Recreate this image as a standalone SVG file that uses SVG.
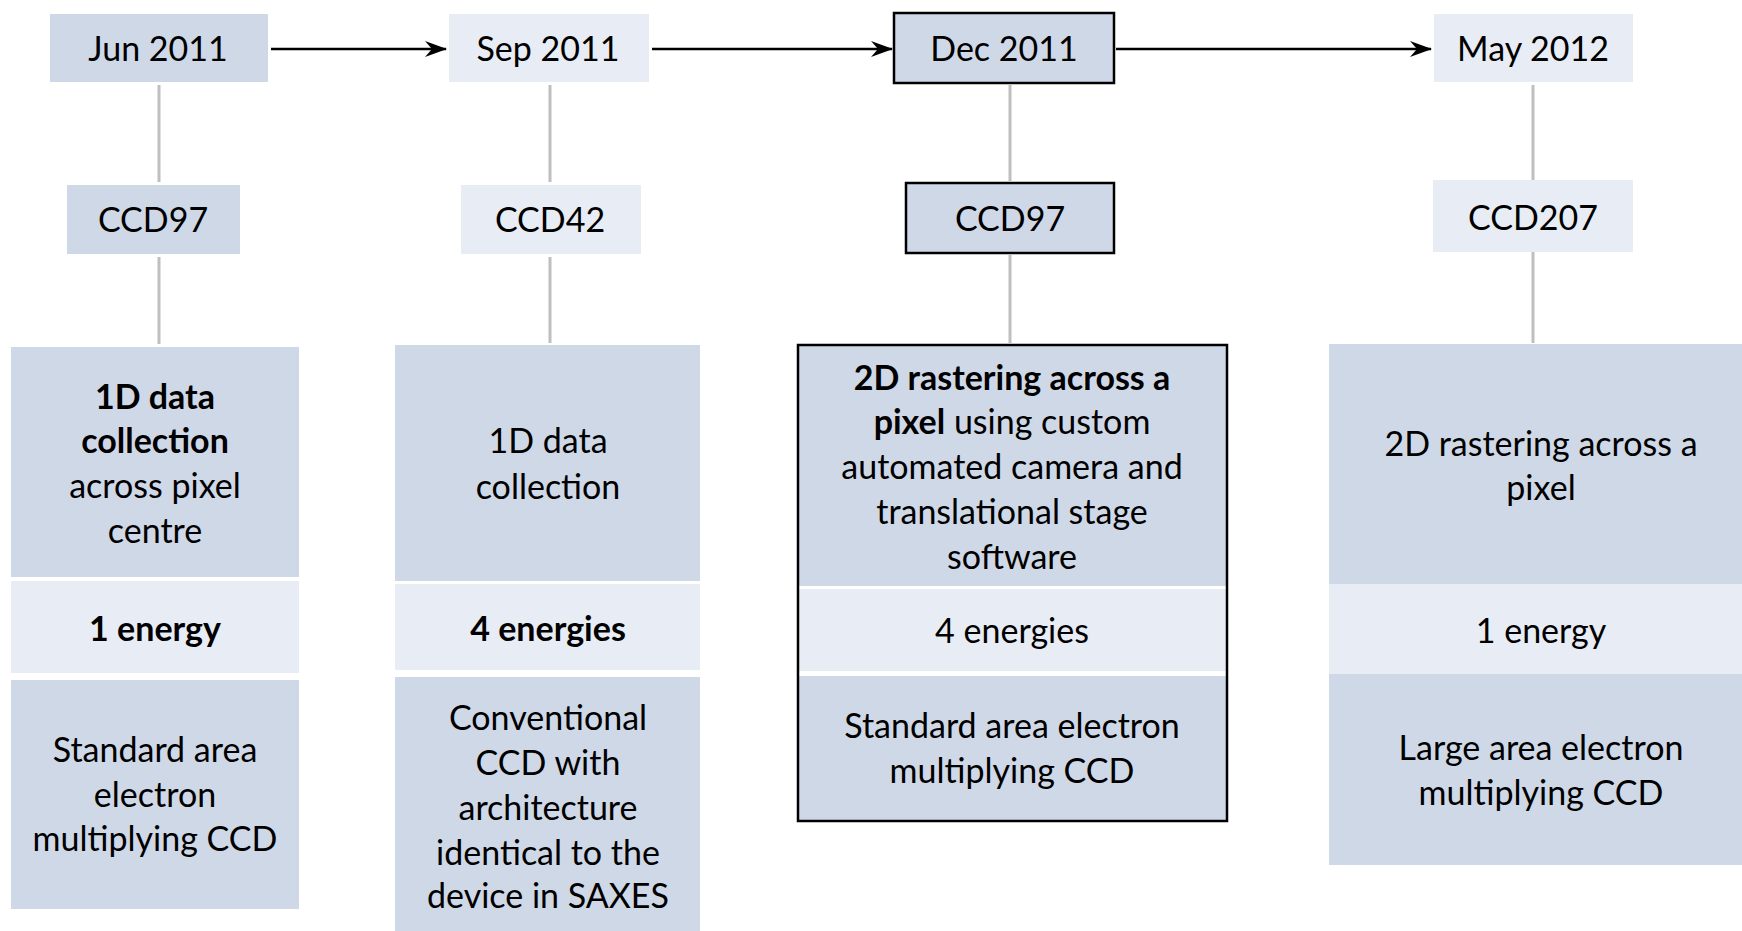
<svg xmlns="http://www.w3.org/2000/svg" width="1742" height="931" viewBox="0 0 1742 931">
<style>
text{font-family:Lato,"Open Sans","Liberation Sans",sans-serif;font-size:34px;fill:#000;text-anchor:middle}
.b{font-weight:bold}
.m{fill:#CFD8E7}
.l{fill:#E8ECF4}
.k{fill:none;stroke:#000;stroke-width:2.5}
.g{stroke:#BFBFBF;stroke-width:3;fill:none}
.a{stroke:#000;stroke-width:2.3;fill:none}
</style>
<defs>
<marker id="ah" viewBox="0 0 22 16" refX="21" refY="8" markerWidth="22" markerHeight="16" markerUnits="userSpaceOnUse" orient="auto">
<path d="M0,0 L22,8 L0,16 L7,8 Z" fill="#000"/>
</marker>
</defs>
<rect width="1742" height="931" fill="#fff"/>
<g id="connectors">
<line class="a" x1="271" y1="49" x2="446" y2="49" marker-end="url(#ah)"/>
<line class="a" x1="652" y1="49" x2="892" y2="49" marker-end="url(#ah)"/>
<line class="a" x1="1116" y1="49" x2="1431" y2="49" marker-end="url(#ah)"/>
<line class="g" x1="159" y1="85" x2="159" y2="182"/>
<line class="g" x1="159" y1="257" x2="159" y2="344"/>
<line class="g" x1="550" y1="85" x2="550" y2="182"/>
<line class="g" x1="550" y1="257" x2="550" y2="343"/>
<line class="g" x1="1010" y1="85" x2="1010" y2="181"/>
<line class="g" x1="1010" y1="255" x2="1010" y2="343"/>
<line class="g" x1="1533" y1="85" x2="1533" y2="180"/>
<line class="g" x1="1533" y1="252" x2="1533" y2="343"/>
</g>
<g id="jun2011"><rect class="m" x="50" y="14" width="218" height="68"/><text x="158" y="61">Jun 2011</text></g>
<g id="sep2011"><rect class="l" x="449" y="14" width="200" height="68"/><text x="548" y="61">Sep 2011</text></g>
<g id="dec2011"><rect class="m" x="894" y="13" width="220" height="70"/><rect class="k" x="894" y="13" width="220" height="70"/><text x="1004" y="61">Dec 2011</text></g>
<g id="may2012"><rect class="l" x="1434" y="14" width="199" height="68"/><text x="1533" y="61">May 2012</text></g>
<g id="ccd97a"><rect class="m" x="67" y="185" width="173" height="69"/><text x="153" y="232">CCD97</text></g>
<g id="ccd42"><rect class="l" x="461" y="185" width="180" height="69"/><text x="550" y="232">CCD42</text></g>
<g id="ccd97b"><rect class="m" x="906" y="183" width="208" height="70"/><rect class="k" x="906" y="183" width="208" height="70"/><text x="1010" y="231">CCD97</text></g>
<g id="ccd207"><rect class="l" x="1433" y="180" width="200" height="72"/><text x="1533" y="230">CCD207</text></g>
<g id="col1">
<rect class="m" x="11" y="347" width="288" height="230"/>
<rect class="l" x="11" y="581" width="288" height="92"/>
<rect class="m" x="11" y="680" width="288" height="229"/>
<text x="155" y="409" class="b">1D data</text>
<text x="155" y="453" class="b">collection</text>
<text x="155" y="498">across pixel</text>
<text x="155" y="543">centre</text>
<text x="155" y="641" class="b">1 energy</text>
<text x="155" y="762">Standard area</text>
<text x="155" y="807">electron</text>
<text x="155" y="851">multiplying CCD</text>
</g>
<g id="col2">
<rect class="m" x="395" y="345" width="305" height="236"/>
<rect class="l" x="395" y="584" width="305" height="86"/>
<rect class="m" x="395" y="677" width="305" height="254"/>
<text x="548" y="453">1D data</text>
<text x="548" y="499">collection</text>
<text x="548" y="641" class="b">4 energies</text>
<text x="548" y="730">Conventional</text>
<text x="548" y="775">CCD with</text>
<text x="548" y="820">architecture</text>
<text x="548" y="865">identical to the</text>
<text x="548" y="908">device in SAXES</text>
</g>
<g id="col3">
<rect class="m" x="798" y="345" width="429" height="241"/>
<rect class="l" x="798" y="589" width="429" height="82"/>
<rect class="m" x="798" y="676" width="429" height="145"/>
<rect class="k" x="798" y="345" width="429" height="476"/>
<text x="1012" y="390" class="b">2D rastering across a</text>
<text x="1012" y="434"><tspan class="b">pixel</tspan> using custom</text>
<text x="1012" y="479">automated camera and</text>
<text x="1012" y="524">translational stage</text>
<text x="1012" y="569">software</text>
<text x="1012" y="643">4 energies</text>
<text x="1012" y="738">Standard area electron</text>
<text x="1012" y="783">multiplying CCD</text>
</g>
<g id="col4">
<rect class="m" x="1329" y="344" width="413" height="240"/>
<rect class="l" x="1329" y="584" width="413" height="90"/>
<rect class="m" x="1329" y="674" width="413" height="191"/>
<text x="1541" y="456">2D rastering across a</text>
<text x="1541" y="500">pixel</text>
<text x="1541" y="643">1 energy</text>
<text x="1541" y="760">Large area electron</text>
<text x="1541" y="805">multiplying CCD</text>
</g>
</svg>
